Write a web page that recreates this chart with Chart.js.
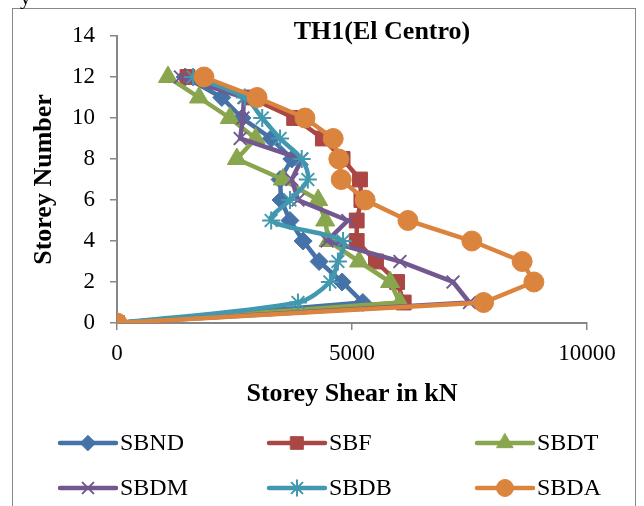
<!DOCTYPE html>
<html lang="en">
<head>
  <meta charset="UTF-8">
  <title>TH1(El Centro)</title>
  <script src="https://cdn.jsdelivr.net/npm/chart.js"></script>
  <style>
    body { margin: 0; background: #fff; }
  </style>
</head>
<body>
  <div style="width:644px;height:506px">
    <canvas id="shearChart" width="644" height="506"></canvas>
  </div>

  <script>
    // storey shear (kN) per storey
    const storeys = [0, 1, 2, 3, 4, 5, 6, 7, 8, 9, 10, 11, 12];
    const sbnd = [0, 5230, 4790, 4300, 3960, 3680, 3490, 3470, 3720, 3280, 2660, 2230, 1450];
    const sbf  = [0, 6100, 5960, 5510, 5100, 5100, 5200, 5170, 4800, 4380, 3770, 2830, 1500];
    const sbdt = [0, 6020, 5810, 5150, 4500, 4430, 4280, 3530, 2550, 2950, 2400, 1745, 1085];
    const sbdm = [0, 7500, 7150, 6020, 4470, 4910, 3850, 3720, 3930, 2620, 2680, 2700, 1350];
    const sbdb = [0, 3850, 4530, 4700, 4810, 3280, 3680, 4060, 3930, 3470, 3090, 2720, 1620];
    const sbda = [0, 7800, 8870, 8620, 7550, 6190, 5280, 4770, 4720, 4600, 4000, 2980, 1850];

    const seriesNames = ["SBND", "SBF", "SBDT", "SBDM", "SBDB", "SBDA"];
    const seriesValues = [sbnd, sbf, sbdt, sbdm, sbdb, sbda];

    const colors = ["#4572A7", "#AA4643", "#89A54E", "#71588F", "#4198AF", "#DB843D"];
    const markers = [
      { style: "rectRot", radius: 9, border: 1 },
      { style: "rect", radius: 10.5, border: 1 },
      { style: "triangle", radius: 11, border: 1 },
      { style: "crossRot", radius: 9, border: 2 },
      { style: "star", radius: 9, border: 2 },
      { style: "circle", radius: 10, border: 1 },
    ];

    const serif = "'Liberation Serif', 'Times New Roman', serif";
    const axisGray = "#878787";

    const datasets = seriesNames.map((name, i) => ({
      label: name,
      data: storeys.map((s, k) => ({ x: seriesValues[i][k], y: s })),
      showLine: true,
      borderColor: colors[i],
      backgroundColor: colors[i],
      borderWidth: 4.5,
      tension: i === 4 ? 0.3 : 0,
      pointStyle: markers[i].style,
      pointRadius: markers[i].radius,
      pointBorderWidth: markers[i].border,
      pointBackgroundColor: colors[i],
      pointBorderColor: colors[i],
      order: 6 - i, // later series on top, like the original
    }));

    // frame, title and the two-row legend
    const decorPlugin = {
      id: "decor",
      afterDraw(chart) {
        const { ctx } = chart;
        ctx.save();
        ctx.strokeStyle = axisGray;
        ctx.lineWidth = 1;
        ctx.strokeRect(12.5, 8.5, 623, 520);

        ctx.fillStyle = "#000";
        ctx.font = "22px " + serif;
        ctx.textAlign = "left";
        ctx.textBaseline = "alphabetic";
        ctx.fillText("y", 20, 4);

        ctx.font = "bold 26px " + serif;
        ctx.textAlign = "center";
        ctx.textBaseline = "middle";
        ctx.fillText("TH1(El Centro)", 382, 32);

        const colX = [60, 269, 477];
        const rowY = [443, 488];
        seriesNames.forEach((name, i) => {
          const x = colX[i % 3];
          const y = rowY[Math.floor(i / 3)];
          ctx.strokeStyle = colors[i];
          ctx.fillStyle = colors[i];
          ctx.lineWidth = 4.5;
          ctx.lineCap = "round";
          ctx.beginPath();
          ctx.moveTo(x, y);
          ctx.lineTo(x + 56, y);
          ctx.stroke();
          ctx.lineWidth = markers[i].border;
          Chart.helpers.drawPoint(ctx, {
            pointStyle: markers[i].style,
            radius: markers[i].radius * 0.85,
            rotation: 0,
            borderWidth: markers[i].border,
          }, x + 28, y);
          ctx.fillStyle = "#000";
          ctx.font = "24px " + serif;
          ctx.textAlign = "left";
          ctx.textBaseline = "middle";
          ctx.fillText(name, x + 60, y + 1);
        });
        ctx.restore();
      },
    };

    const ctx = document.getElementById("shearChart").getContext("2d");
    new Chart(ctx, {
      type: "scatter",
      data: { datasets },
      plugins: [decorPlugin],
      options: {
        responsive: false,
        animation: false,
        layout: { padding: { left: 0, right: 57, top: 36, bottom: 0 } },
        plugins: {
          legend: { display: false },
          title: { display: false },
          tooltip: { enabled: false },
        },
        scales: {
          x: {
            type: "linear",
            min: 0,
            max: 10000,
            afterFit(scale) { scale.height = 183; },
            ticks: {
              stepSize: 5000,
              color: "#000",
              padding: 10,
              font: { family: serif, size: 23 },
              callback: (v) => String(v),
            },
            grid: { drawOnChartArea: false, drawTicks: true, tickLength: 7, color: axisGray, lineWidth: 1.5 },
            border: { color: axisGray, width: 2 },
            title: {
              display: true,
              text: "Storey Shear in kN",
              color: "#000",
              font: { family: serif, size: 26, weight: "bold" },
              padding: { top: 0, bottom: 96 },
            },
          },
          y: {
            type: "linear",
            min: 0,
            max: 14,
            afterFit(scale) { scale.width = 117; },
            ticks: {
              stepSize: 2,
              color: "#000",
              padding: 15,
              font: { family: serif, size: 23 },
            },
            grid: { drawOnChartArea: false, drawTicks: true, tickLength: 7, color: axisGray, lineWidth: 1.5 },
            border: { color: axisGray, width: 2 },
            title: {
              display: true,
              text: "Storey Number",
              color: "#000",
              font: { family: serif, size: 26, weight: "bold" },
              padding: { top: 29, bottom: 0 },
            },
          },
        },
      },
    });
  </script>
</body>
</html>
